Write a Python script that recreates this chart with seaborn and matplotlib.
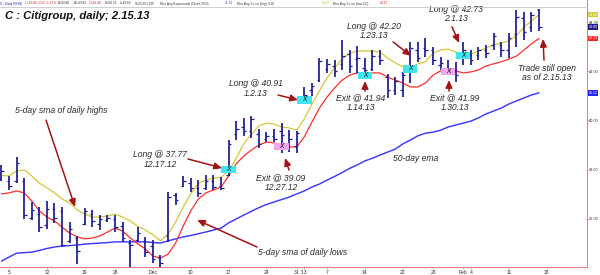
import numpy as np
import pandas as pd
import matplotlib
matplotlib.use("Agg")
import matplotlib.pyplot as plt
import matplotlib.transforms as mtrans
from matplotlib.patches import Rectangle
from matplotlib.lines import Line2D
import seaborn as sns

# ---------------- data ----------------
highs = [38.19, 37.74, 38.51, 37.65, 36.68, 36.47, 36.72, 36.64, 36.47, 35.87,
         35.30, 36.43, 36.36, 36.15, 36.15, 36.15, 35.87, 35.14, 35.66, 35.26,
         35.14, 34.52, 37.09, 37.05, 37.74, 37.65, 37.57, 37.78, 37.78, 37.69,
         39.20, 39.97, 40.10, 40.18, 39.65, 39.52, 39.65, 39.89, 39.60, 39.56,
         41.36, 41.51, 42.53, 42.49, 42.46, 43.27, 42.86, 43.02, 42.53, 42.86,
         42.86, 41.88, 41.76, 41.97, 43.19, 43.19, 43.35, 42.98, 42.57, 42.46,
         42.38, 43.19, 42.86, 42.98, 43.07, 43.55, 43.19, 43.55, 44.49, 44.41,
         44.41, 44.51]
lows = [37.53, 37.17, 37.45, 35.99, 35.95, 35.46, 35.58, 35.83, 34.85, 35.01,
        34.16, 35.74, 35.66, 35.54, 35.87, 35.46, 35.05, 34.04, 35.05, 34.44,
        34.20, 34.04, 35.05, 36.55, 37.29, 37.09, 36.88, 37.17, 37.17, 37.17,
        37.72, 39.20, 39.37, 39.29, 38.88, 39.12, 39.12, 38.67, 38.71, 38.67,
        40.70, 40.99, 41.56, 41.93, 41.76, 42.05, 41.93, 41.93, 41.72, 42.01,
        42.25, 40.91, 41.03, 40.95, 41.51, 42.38, 42.57, 42.25, 42.05, 41.84,
        41.56, 42.25, 42.25, 42.46, 42.53, 42.86, 42.57, 42.53, 42.98, 43.27,
        43.60, 43.63]
opens = [37.65, 37.55, 37.55, 37.55, 36.05, 36.20, 35.75, 36.40, 36.30, 35.10,
         35.20, 35.80, 36.20, 35.80, 35.95, 36.00, 35.70, 35.00, 35.15, 35.10,
         34.90, 34.40, 35.30, 36.95, 37.35, 37.45, 37.25, 37.25, 37.55, 37.35,
         37.77, 39.45, 39.75, 39.55, 39.45, 39.25, 39.35, 39.55, 39.05, 38.95,
         40.91, 41.25, 41.65, 42.10, 42.20, 42.30, 42.70, 42.50, 42.15, 42.10,
         42.60, 41.75, 41.25, 41.25, 42.20, 42.85, 42.95, 42.85, 42.25, 42.15,
         42.05, 42.73, 42.65, 42.65, 42.85, 43.05, 43.05, 42.85, 43.50, 44.15,
         43.80, 44.48]
closes = [37.95, 37.35, 38.25, 36.15, 36.35, 35.65, 36.40, 36.05, 34.95, 35.60,
          34.70, 36.30, 35.90, 36.00, 36.05, 35.65, 35.20, 34.95, 35.40, 34.65,
          34.35, 34.20, 36.90, 36.75, 37.55, 37.25, 37.05, 37.55, 37.30, 37.25,
          39.05, 39.65, 39.55, 40.05, 39.05, 39.35, 39.25, 39.40, 39.25, 39.50,
          41.05, 41.40, 42.40, 42.30, 42.00, 42.60, 42.20, 42.55, 42.05, 42.60,
          42.45, 41.25, 41.60, 41.85, 42.95, 42.55, 42.85, 42.45, 42.35, 42.00,
          41.85, 42.85, 42.45, 42.85, 42.75, 43.45, 42.85, 43.35, 44.20, 43.60,
          44.30, 43.80]
sma_high = [37.76, 37.74, 37.94, 37.98, 37.74, 37.45, 37.26, 37.05, 36.80, 36.64,
            36.36, 36.19, 36.07, 36.07, 36.11, 36.19, 36.07, 35.91, 35.70, 35.54,
            35.35, 35.10, 35.38, 35.87, 36.47, 37.01, 37.45, 37.57, 37.65, 37.69,
            37.94, 38.46, 39.04, 39.44, 39.77, 39.89, 39.85, 39.73, 39.69, 39.60,
            40.06, 40.66, 41.20, 41.72, 42.13, 42.49, 42.74, 42.82, 42.82, 42.82,
            42.78, 42.53, 42.34, 42.17, 42.13, 42.30, 42.38, 42.74, 42.86, 42.90,
            42.78, 42.65, 42.70, 42.82, 42.94, 43.07, 43.15, 43.23, 43.44, 43.79,
            44.04, 44.30]
sma_low = [37.01, 37.05, 37.13, 37.05, 36.72, 36.32, 36.07, 35.91, 35.66, 35.42,
           35.26, 35.18, 35.22, 35.30, 35.46, 35.62, 35.50, 35.22, 34.98, 34.77,
           34.48, 34.40, 34.56, 35.01, 35.70, 36.32, 36.80, 37.05, 37.17, 37.29,
           37.74, 38.23, 38.55, 38.79, 39.00, 39.12, 39.08, 39.00, 38.92, 38.92,
           39.33, 39.93, 40.50, 40.95, 41.32, 41.64, 41.84, 41.93, 41.93, 41.93,
           41.93, 41.76, 41.64, 41.52, 41.36, 41.36, 41.52, 41.84, 42.01, 42.05,
           42.01, 41.93, 41.97, 42.05, 42.21, 42.30, 42.38, 42.49, 42.61, 42.86,
           43.11, 43.33]
ema50 = [34.28, 34.44, 34.60, 34.62, 34.64, 34.71, 34.79, 34.85, 34.89, 34.91,
         34.93, 34.97, 34.99, 35.01, 35.03, 35.06, 35.06, 35.06, 35.06, 35.06,
         35.03, 35.01, 35.10, 35.18, 35.26, 35.32, 35.39, 35.46, 35.54, 35.62,
         35.83, 35.99, 36.15, 36.30, 36.45, 36.58, 36.68, 36.78, 36.88, 37.01,
         37.13, 37.29, 37.41, 37.57, 37.72, 37.88, 38.05, 38.19, 38.35, 38.46,
         38.59, 38.71, 38.83, 39.04, 39.20, 39.37, 39.48, 39.52, 39.60, 39.73,
         39.81, 39.89, 39.97, 40.10, 40.26, 40.38, 40.50, 40.66, 40.79, 40.91,
         41.03, 41.12]

# x-axis ticks (trading-day index) and labels
tick_idx = [1, 6, 11, 15, 20, 25, 30, 35, 39, 40, 43, 48, 53, 57, 61, 62, 67, 72]
tick_lbl = ['5', '12', '19', '26', 'Dec', '10', '17', '24', '31', "'13",
            '7', '14', '22', '28', 'Feb', '4', '11', '18']
price_ticks = [36, 38, 40, 42, 44]

# trade markers
trade_idx = [30, 37, 40, 48, 54, 59, 61]
trade_px = [38.00, 38.92, 40.83, 41.82, 42.09, 41.97, 42.63]
trade_kind = ['long', 'exit', 'long', 'exit_c', 'long', 'exit', 'long']

assert all(len(a) == 72 for a in [highs, lows, opens, closes, sma_high, sma_low, ema50])

# ---------------- figure ----------------
sns.set_theme(style="white")
plt.rcParams['font.family'] = ['Liberation Sans', 'DejaVu Sans']

W, H = 600, 275
fig = plt.figure(figsize=(6, 2.75), dpi=100)
fig.patch.set_facecolor('white')
ax = fig.add_axes([0, 8 / H, 587 / W, 267 / H])
ax.set_facecolor('white')

idx = np.arange(len(highs))
df = pd.DataFrame({'i': idx, 'sma_high': sma_high, 'sma_low': sma_low, 'ema50': ema50})

sns.lineplot(data=df, x='i', y='ema50', color='#3b3bff', lw=1.05, ax=ax, zorder=2)
sns.lineplot(data=df, x='i', y='sma_high', color='#d4c838', lw=0.9, ax=ax, zorder=2)
sns.lineplot(data=df, x='i', y='sma_low', color='#ff2e2e', lw=0.9, ax=ax, zorder=2)

bar_c = '#1d1d8e'
ax.vlines(idx, lows, highs, color=bar_c, lw=1.25, zorder=3)
ax.hlines(opens, idx - 0.33, idx, color=bar_c, lw=0.9, zorder=3)
ax.hlines(closes, idx, idx + 0.33, color=bar_c, lw=0.9, zorder=3)

# trade boxes
box_col = {'long': '#3fe6f2', 'exit': '#f2a6f2', 'exit_c': '#3fe6f2'}
for ti, tp, tk in zip(trade_idx, trade_px, trade_kind):
    ax.add_patch(Rectangle((ti - 0.95, tp - 0.145), 1.9, 0.29, facecolor=box_col[tk],
                           edgecolor='none', zorder=4))
    ax.text(ti, tp, 'X', fontsize=4.8, style='italic', color='black',
            ha='center', va='center', zorder=5)

# axes limits / ticks
ax.set_xlim(-0.198, 77.34)
ax.set_ylim(34.037, 44.895)
ax.set_xlabel('')
ax.set_ylabel('')
ax.set_xticks(tick_idx)
ax.set_xticklabels(tick_lbl)
ax.yaxis.tick_right()
ax.set_yticks(price_ticks)
ax.set_yticklabels([f'{v:.2f}' for v in price_ticks])
ax.tick_params(axis='x', labelsize=3.6, length=1.5, width=0.5, pad=0.6,
               color='#f08080', labelcolor='#333333', bottom=True)
ax.tick_params(axis='y', labelsize=2.8, length=1.2, width=0.5, pad=0.4,
               color='#f08080', labelcolor='#333333', right=True, left=False)
for s in ['left', 'top']:
    ax.spines[s].set_visible(False)
for s in ['bottom', 'right']:
    ax.spines[s].set_visible(True)
    ax.spines[s].set_color('#f08080')
    ax.spines[s].set_linewidth(0.8)

# last-value boxes on the price axis
bt = mtrans.blended_transform_factory(ax.transAxes, ax.transData)
for val, fc in [(sma_high[-1], '#d4c838'), (closes[-1], '#1d1d8e'),
                (sma_low[-1], '#ff2020'), (ema50[-1], '#2424ff')]:
    ax.text(1.003, val, f'{val:.2f}', transform=bt, fontsize=2.6, color='white',
            ha='left', va='center', zorder=6, clip_on=False,
            bbox=dict(boxstyle='square,pad=0.2', fc=fc, ec='none'))

# annotations
ann_kw = dict(fontsize=6.2, style='italic', color='#2a2a2a', linespacing=1.1, zorder=7)
arr_kw = dict(arrowstyle='-|>,head_length=0.45,head_width=0.2', color='#a31414',
              lw=1.1, shrinkA=0, shrinkB=0, mutation_scale=10)


def note(txt, pos, tail=None, head=None, ha='center'):
    ax.text(pos[0], pos[1], txt, ha=ha, va='center', clip_on=False, **ann_kw)
    if tail is not None:
        ax.annotate('', xy=head, xytext=tail, arrowprops=arr_kw, zorder=7,
                    annotation_clip=False)


note('5-day sma of daily highs', (7.93, 40.40), (5.88, 40.01), (9.71, 36.48))
note('Long @ 37.77\n12.17.12', (20.94, 38.41), (24.64, 38.43), (29.13, 38.06))
note('Long @ 40.91\n1.2.13', (33.62, 41.30), (36.53, 41.03), (39.17, 40.83))
note('Exit @ 39.09\n12.27.12', (36.92, 37.47), (37.98, 37.98), (37.45, 38.47))
note('Long @ 42.20\n1.23.13', (49.21, 43.63), (51.72, 43.19), (54.10, 42.62))
note('Exit @ 41.94\n1.14.13', (47.49, 40.71), (48.02, 41.19), (48.02, 41.60))
note('Long @ 42.73\n2.1.13', (59.97, 44.33), (59.51, 43.80), (60.44, 43.15))
note('Exit @ 41.99\n1.30.13', (59.91, 40.73), (59.11, 41.19), (59.11, 41.64))
note('Trade still open\nas of 2.15.13', (72.06, 41.93), (71.66, 42.45), (71.53, 43.31))
note('50-day ema', (51.72, 38.43), ha='left')
note('5-day sma of daily lows', (33.88, 34.63), (33.75, 34.85), (25.83, 35.95), ha='left')

# title and header strip
fig.text(5 / W, 1 - 16 / H, 'C : Citigroup, daily; 2.15.13', fontsize=8.1,
         fontweight='bold', style='italic', color='#111111', ha='left', va='center')
fig.add_artist(Line2D([0, 587 / W], [1 - 7 / H] * 2, color='#c8c8c8', lw=0.6))
header = [(0, 'C - Daily NYSE', '#2020c0'), (25, 'L=43.80 -0.52 -1.17%', '#e02020'),
          (58, 'B=43.80', '#333333'), (74, 'A=43.82', '#333333'),
          (89, 'O=44.48', '#e02020'), (105, 'H=44.51', '#333333'),
          (120, 'L=43.63', '#333333'), (135, 'V=23,251,535', '#333333'),
          (160, 'Mov Avg Exponential (Close,50.0)', '#333333'), (225, '41.12', '#2020ff'),
          (237, 'Mov Avg 1 Line (high,5.0)', '#333333'), (322, '44.30', '#c8bc30'),
          (333, 'Mov Avg 1 Line (low,5.0)', '#333333'), (380, '43.33', '#e02020')]
for xp, t, c in header:
    fig.text(xp / W, 1 - 3.5 / H, t, fontsize=2.3, color=c, ha='left', va='center')

fig.savefig('out.png', dpi=100, facecolor='white')
